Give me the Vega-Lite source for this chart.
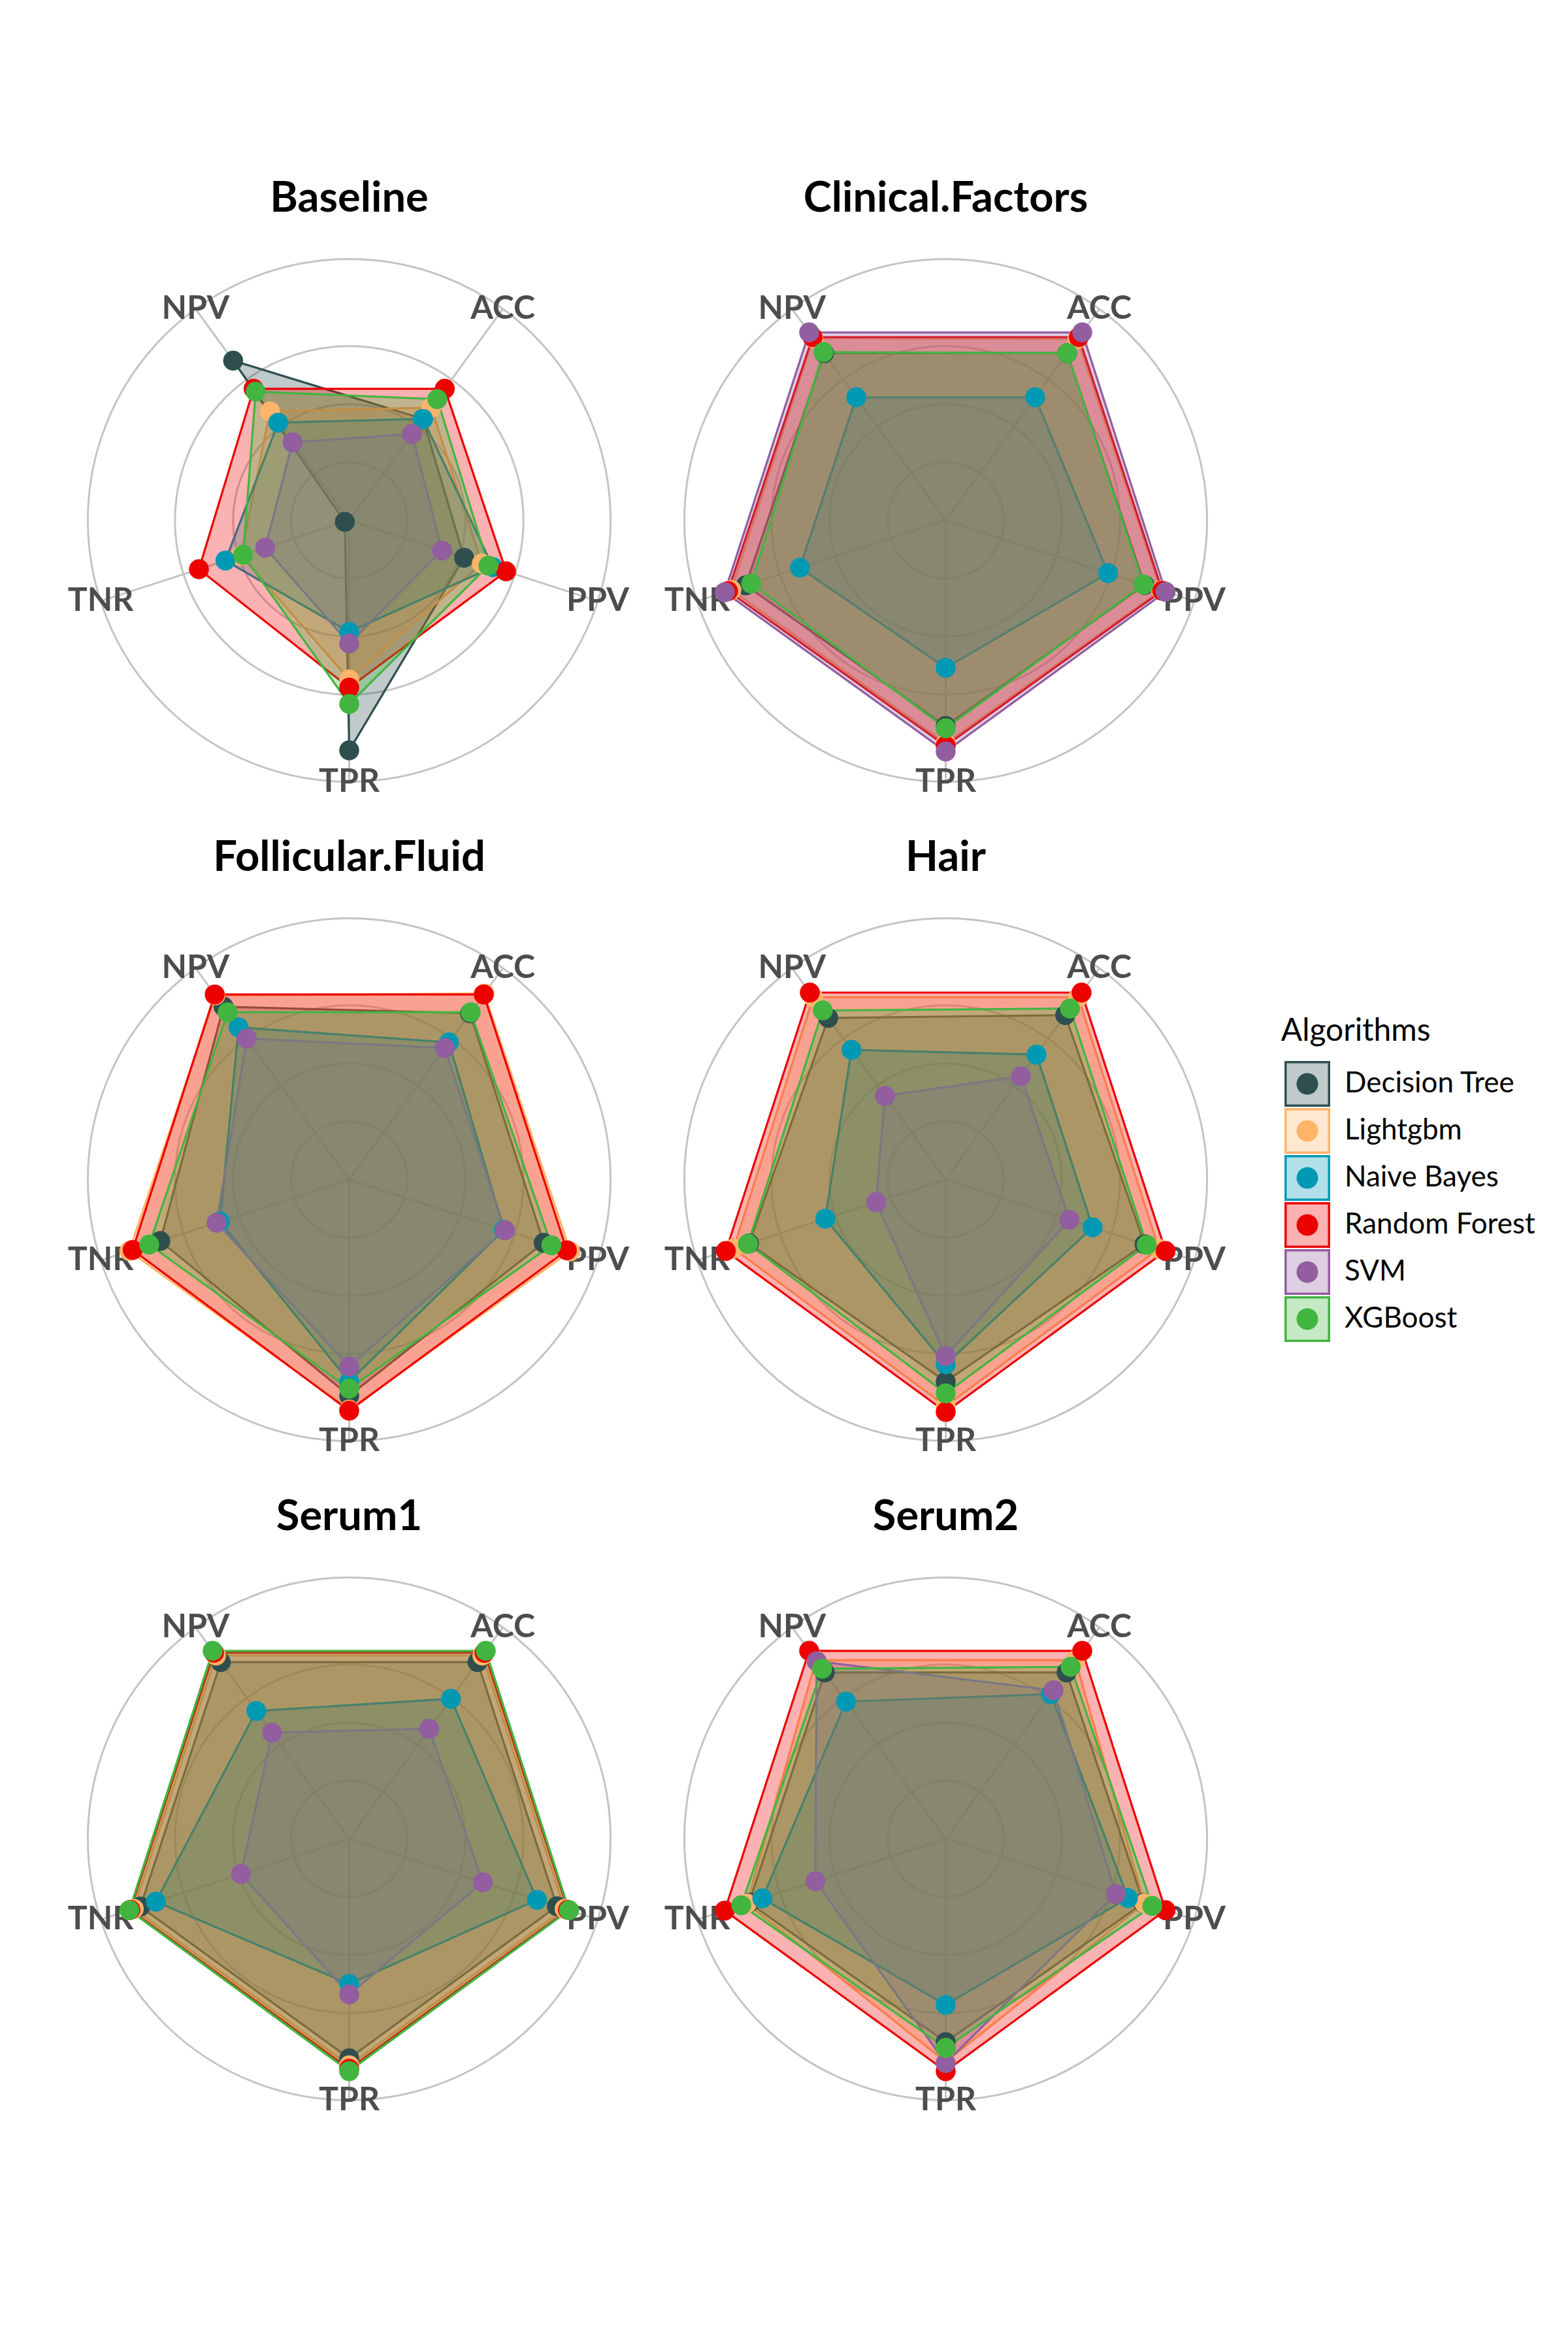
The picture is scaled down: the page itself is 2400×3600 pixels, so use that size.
{
  "$schema": "https://vega.github.io/schema/vega-lite/v6.json",
  "background": "white",
  "padding": {"left": 90, "top": 272, "right": 0, "bottom": 0},
  "spacing": 68,
  "hconcat": [
    {
      "data": {"values": [
        {"panel": "Baseline", "algorithm": "Decision Tree", "metric": "ACC", "value": 0.54},
        {"panel": "Baseline", "algorithm": "Decision Tree", "metric": "PPV", "value": 0.52},
        {"panel": "Baseline", "algorithm": "Decision Tree", "metric": "TPR", "value": 0.99},
        {"panel": "Baseline", "algorithm": "Decision Tree", "metric": "TNR", "value": 0.02},
        {"panel": "Baseline", "algorithm": "Decision Tree", "metric": "NPV", "value": 0.85},
        {"panel": "Baseline", "algorithm": "Lightgbm", "metric": "ACC", "value": 0.6},
        {"panel": "Baseline", "algorithm": "Lightgbm", "metric": "PPV", "value": 0.6},
        {"panel": "Baseline", "algorithm": "Lightgbm", "metric": "TPR", "value": 0.685},
        {"panel": "Baseline", "algorithm": "Lightgbm", "metric": "TNR", "value": 0.49},
        {"panel": "Baseline", "algorithm": "Lightgbm", "metric": "NPV", "value": 0.58},
        {"panel": "Baseline", "algorithm": "Naive Bayes", "metric": "ACC", "value": 0.54},
        {"panel": "Baseline", "algorithm": "Naive Bayes", "metric": "PPV", "value": 0.65},
        {"panel": "Baseline", "algorithm": "Naive Bayes", "metric": "TPR", "value": 0.48},
        {"panel": "Baseline", "algorithm": "Naive Bayes", "metric": "TNR", "value": 0.56},
        {"panel": "Baseline", "algorithm": "Naive Bayes", "metric": "NPV", "value": 0.52},
        {"panel": "Baseline", "algorithm": "Random Forest", "metric": "ACC", "value": 0.7},
        {"panel": "Baseline", "algorithm": "Random Forest", "metric": "PPV", "value": 0.71},
        {"panel": "Baseline", "algorithm": "Random Forest", "metric": "TPR", "value": 0.72},
        {"panel": "Baseline", "algorithm": "Random Forest", "metric": "TNR", "value": 0.68},
        {"panel": "Baseline", "algorithm": "Random Forest", "metric": "NPV", "value": 0.7},
        {"panel": "Baseline", "algorithm": "SVM", "metric": "ACC", "value": 0.46},
        {"panel": "Baseline", "algorithm": "SVM", "metric": "PPV", "value": 0.42},
        {"panel": "Baseline", "algorithm": "SVM", "metric": "TPR", "value": 0.53},
        {"panel": "Baseline", "algorithm": "SVM", "metric": "TNR", "value": 0.38},
        {"panel": "Baseline", "algorithm": "SVM", "metric": "NPV", "value": 0.415},
        {"panel": "Baseline", "algorithm": "XGBoost", "metric": "ACC", "value": 0.645},
        {"panel": "Baseline", "algorithm": "XGBoost", "metric": "PPV", "value": 0.63},
        {"panel": "Baseline", "algorithm": "XGBoost", "metric": "TPR", "value": 0.79},
        {"panel": "Baseline", "algorithm": "XGBoost", "metric": "TNR", "value": 0.48},
        {"panel": "Baseline", "algorithm": "XGBoost", "metric": "NPV", "value": 0.685},

        {"panel": "Clinical.Factors", "algorithm": "Decision Tree", "metric": "ACC", "value": 0.89},
        {"panel": "Clinical.Factors", "algorithm": "Decision Tree", "metric": "PPV", "value": 0.9},
        {"panel": "Clinical.Factors", "algorithm": "Decision Tree", "metric": "TPR", "value": 0.885},
        {"panel": "Clinical.Factors", "algorithm": "Decision Tree", "metric": "TNR", "value": 0.905},
        {"panel": "Clinical.Factors", "algorithm": "Decision Tree", "metric": "NPV", "value": 0.89},
        {"panel": "Clinical.Factors", "algorithm": "Lightgbm", "metric": "ACC", "value": 0.965},
        {"panel": "Clinical.Factors", "algorithm": "Lightgbm", "metric": "PPV", "value": 0.975},
        {"panel": "Clinical.Factors", "algorithm": "Lightgbm", "metric": "TPR", "value": 0.96},
        {"panel": "Clinical.Factors", "algorithm": "Lightgbm", "metric": "TNR", "value": 0.97},
        {"panel": "Clinical.Factors", "algorithm": "Lightgbm", "metric": "NPV", "value": 0.97},
        {"panel": "Clinical.Factors", "algorithm": "Naive Bayes", "metric": "ACC", "value": 0.655},
        {"panel": "Clinical.Factors", "algorithm": "Naive Bayes", "metric": "PPV", "value": 0.735},
        {"panel": "Clinical.Factors", "algorithm": "Naive Bayes", "metric": "TPR", "value": 0.635},
        {"panel": "Clinical.Factors", "algorithm": "Naive Bayes", "metric": "TNR", "value": 0.66},
        {"panel": "Clinical.Factors", "algorithm": "Naive Bayes", "metric": "NPV", "value": 0.655},
        {"panel": "Clinical.Factors", "algorithm": "Random Forest", "metric": "ACC", "value": 0.975},
        {"panel": "Clinical.Factors", "algorithm": "Random Forest", "metric": "PPV", "value": 0.98},
        {"panel": "Clinical.Factors", "algorithm": "Random Forest", "metric": "TPR", "value": 0.97},
        {"panel": "Clinical.Factors", "algorithm": "Random Forest", "metric": "TNR", "value": 0.985},
        {"panel": "Clinical.Factors", "algorithm": "Random Forest", "metric": "NPV", "value": 0.975},
        {"panel": "Clinical.Factors", "algorithm": "SVM", "metric": "ACC", "value": 1.0},
        {"panel": "Clinical.Factors", "algorithm": "SVM", "metric": "PPV", "value": 0.995},
        {"panel": "Clinical.Factors", "algorithm": "SVM", "metric": "TPR", "value": 0.995},
        {"panel": "Clinical.Factors", "algorithm": "SVM", "metric": "TNR", "value": 1.0},
        {"panel": "Clinical.Factors", "algorithm": "SVM", "metric": "NPV", "value": 1.0},
        {"panel": "Clinical.Factors", "algorithm": "XGBoost", "metric": "ACC", "value": 0.89},
        {"panel": "Clinical.Factors", "algorithm": "XGBoost", "metric": "PPV", "value": 0.895},
        {"panel": "Clinical.Factors", "algorithm": "XGBoost", "metric": "TPR", "value": 0.895},
        {"panel": "Clinical.Factors", "algorithm": "XGBoost", "metric": "TNR", "value": 0.88},
        {"panel": "Clinical.Factors", "algorithm": "XGBoost", "metric": "NPV", "value": 0.895},

        {"panel": "Follicular.Fluid", "algorithm": "Decision Tree", "metric": "ACC", "value": 0.885},
        {"panel": "Follicular.Fluid", "algorithm": "Decision Tree", "metric": "PPV", "value": 0.88},
        {"panel": "Follicular.Fluid", "algorithm": "Decision Tree", "metric": "TPR", "value": 0.93},
        {"panel": "Follicular.Fluid", "algorithm": "Decision Tree", "metric": "TNR", "value": 0.855},
        {"panel": "Follicular.Fluid", "algorithm": "Decision Tree", "metric": "NPV", "value": 0.92},
        {"panel": "Follicular.Fluid", "algorithm": "Lightgbm", "metric": "ACC", "value": 0.99},
        {"panel": "Follicular.Fluid", "algorithm": "Lightgbm", "metric": "PPV", "value": 1.0},
        {"panel": "Follicular.Fluid", "algorithm": "Lightgbm", "metric": "TPR", "value": 0.99},
        {"panel": "Follicular.Fluid", "algorithm": "Lightgbm", "metric": "TNR", "value": 0.995},
        {"panel": "Follicular.Fluid", "algorithm": "Lightgbm", "metric": "NPV", "value": 0.98},
        {"panel": "Follicular.Fluid", "algorithm": "Naive Bayes", "metric": "ACC", "value": 0.73},
        {"panel": "Follicular.Fluid", "algorithm": "Naive Bayes", "metric": "PPV", "value": 0.7},
        {"panel": "Follicular.Fluid", "algorithm": "Naive Bayes", "metric": "TPR", "value": 0.87},
        {"panel": "Follicular.Fluid", "algorithm": "Naive Bayes", "metric": "TNR", "value": 0.585},
        {"panel": "Follicular.Fluid", "algorithm": "Naive Bayes", "metric": "NPV", "value": 0.81},
        {"panel": "Follicular.Fluid", "algorithm": "Random Forest", "metric": "ACC", "value": 0.985},
        {"panel": "Follicular.Fluid", "algorithm": "Random Forest", "metric": "PPV", "value": 0.985},
        {"panel": "Follicular.Fluid", "algorithm": "Random Forest", "metric": "TPR", "value": 0.995},
        {"panel": "Follicular.Fluid", "algorithm": "Random Forest", "metric": "TNR", "value": 0.98},
        {"panel": "Follicular.Fluid", "algorithm": "Random Forest", "metric": "NPV", "value": 0.985},
        {"panel": "Follicular.Fluid", "algorithm": "SVM", "metric": "ACC", "value": 0.7},
        {"panel": "Follicular.Fluid", "algorithm": "SVM", "metric": "PPV", "value": 0.705},
        {"panel": "Follicular.Fluid", "algorithm": "SVM", "metric": "TPR", "value": 0.805},
        {"panel": "Follicular.Fluid", "algorithm": "SVM", "metric": "TNR", "value": 0.6},
        {"panel": "Follicular.Fluid", "algorithm": "SVM", "metric": "NPV", "value": 0.75},
        {"panel": "Follicular.Fluid", "algorithm": "XGBoost", "metric": "ACC", "value": 0.89},
        {"panel": "Follicular.Fluid", "algorithm": "XGBoost", "metric": "PPV", "value": 0.915},
        {"panel": "Follicular.Fluid", "algorithm": "XGBoost", "metric": "TPR", "value": 0.9},
        {"panel": "Follicular.Fluid", "algorithm": "XGBoost", "metric": "TNR", "value": 0.905},
        {"panel": "Follicular.Fluid", "algorithm": "XGBoost", "metric": "NPV", "value": 0.89},

        {"panel": "Hair", "algorithm": "Decision Tree", "metric": "ACC", "value": 0.875},
        {"panel": "Hair", "algorithm": "Decision Tree", "metric": "PPV", "value": 0.9},
        {"panel": "Hair", "algorithm": "Decision Tree", "metric": "TPR", "value": 0.87},
        {"panel": "Hair", "algorithm": "Decision Tree", "metric": "TNR", "value": 0.89},
        {"panel": "Hair", "algorithm": "Decision Tree", "metric": "NPV", "value": 0.86},
        {"panel": "Hair", "algorithm": "Lightgbm", "metric": "ACC", "value": 0.97},
        {"panel": "Hair", "algorithm": "Lightgbm", "metric": "PPV", "value": 0.965},
        {"panel": "Hair", "algorithm": "Lightgbm", "metric": "TPR", "value": 0.975},
        {"panel": "Hair", "algorithm": "Lightgbm", "metric": "TNR", "value": 0.96},
        {"panel": "Hair", "algorithm": "Lightgbm", "metric": "NPV", "value": 0.97},
        {"panel": "Hair", "algorithm": "Naive Bayes", "metric": "ACC", "value": 0.665},
        {"panel": "Hair", "algorithm": "Naive Bayes", "metric": "PPV", "value": 0.665},
        {"panel": "Hair", "algorithm": "Naive Bayes", "metric": "TPR", "value": 0.795},
        {"panel": "Hair", "algorithm": "Naive Bayes", "metric": "TNR", "value": 0.545},
        {"panel": "Hair", "algorithm": "Naive Bayes", "metric": "NPV", "value": 0.69},
        {"panel": "Hair", "algorithm": "Random Forest", "metric": "ACC", "value": 0.995},
        {"panel": "Hair", "algorithm": "Random Forest", "metric": "PPV", "value": 0.995},
        {"panel": "Hair", "algorithm": "Random Forest", "metric": "TPR", "value": 1.0},
        {"panel": "Hair", "algorithm": "Random Forest", "metric": "TNR", "value": 0.995},
        {"panel": "Hair", "algorithm": "Random Forest", "metric": "NPV", "value": 0.995},
        {"panel": "Hair", "algorithm": "SVM", "metric": "ACC", "value": 0.55},
        {"panel": "Hair", "algorithm": "SVM", "metric": "PPV", "value": 0.56},
        {"panel": "Hair", "algorithm": "SVM", "metric": "TPR", "value": 0.76},
        {"panel": "Hair", "algorithm": "SVM", "metric": "TNR", "value": 0.315},
        {"panel": "Hair", "algorithm": "SVM", "metric": "NPV", "value": 0.445},
        {"panel": "Hair", "algorithm": "XGBoost", "metric": "ACC", "value": 0.91},
        {"panel": "Hair", "algorithm": "XGBoost", "metric": "PPV", "value": 0.91},
        {"panel": "Hair", "algorithm": "XGBoost", "metric": "TPR", "value": 0.92},
        {"panel": "Hair", "algorithm": "XGBoost", "metric": "TNR", "value": 0.895},
        {"panel": "Hair", "algorithm": "XGBoost", "metric": "NPV", "value": 0.9},

        {"panel": "Serum1", "algorithm": "Decision Tree", "metric": "ACC", "value": 0.94},
        {"panel": "Serum1", "algorithm": "Decision Tree", "metric": "PPV", "value": 0.94},
        {"panel": "Serum1", "algorithm": "Decision Tree", "metric": "TPR", "value": 0.945},
        {"panel": "Serum1", "algorithm": "Decision Tree", "metric": "TNR", "value": 0.945},
        {"panel": "Serum1", "algorithm": "Decision Tree", "metric": "NPV", "value": 0.94},
        {"panel": "Serum1", "algorithm": "Lightgbm", "metric": "ACC", "value": 0.975},
        {"panel": "Serum1", "algorithm": "Lightgbm", "metric": "PPV", "value": 0.975},
        {"panel": "Serum1", "algorithm": "Lightgbm", "metric": "TPR", "value": 0.975},
        {"panel": "Serum1", "algorithm": "Lightgbm", "metric": "TNR", "value": 0.975},
        {"panel": "Serum1", "algorithm": "Lightgbm", "metric": "NPV", "value": 0.975},
        {"panel": "Serum1", "algorithm": "Naive Bayes", "metric": "ACC", "value": 0.745},
        {"panel": "Serum1", "algorithm": "Naive Bayes", "metric": "PPV", "value": 0.85},
        {"panel": "Serum1", "algorithm": "Naive Bayes", "metric": "TPR", "value": 0.625},
        {"panel": "Serum1", "algorithm": "Naive Bayes", "metric": "TNR", "value": 0.875},
        {"panel": "Serum1", "algorithm": "Naive Bayes", "metric": "NPV", "value": 0.68},
        {"panel": "Serum1", "algorithm": "Random Forest", "metric": "ACC", "value": 0.99},
        {"panel": "Serum1", "algorithm": "Random Forest", "metric": "PPV", "value": 0.99},
        {"panel": "Serum1", "algorithm": "Random Forest", "metric": "TPR", "value": 0.99},
        {"panel": "Serum1", "algorithm": "Random Forest", "metric": "TNR", "value": 0.99},
        {"panel": "Serum1", "algorithm": "Random Forest", "metric": "NPV", "value": 0.99},
        {"panel": "Serum1", "algorithm": "SVM", "metric": "ACC", "value": 0.585},
        {"panel": "Serum1", "algorithm": "SVM", "metric": "PPV", "value": 0.605},
        {"panel": "Serum1", "algorithm": "SVM", "metric": "TPR", "value": 0.67},
        {"panel": "Serum1", "algorithm": "SVM", "metric": "TNR", "value": 0.49},
        {"panel": "Serum1", "algorithm": "SVM", "metric": "NPV", "value": 0.565},
        {"panel": "Serum1", "algorithm": "XGBoost", "metric": "ACC", "value": 1.0},
        {"panel": "Serum1", "algorithm": "XGBoost", "metric": "PPV", "value": 0.995},
        {"panel": "Serum1", "algorithm": "XGBoost", "metric": "TPR", "value": 1.0},
        {"panel": "Serum1", "algorithm": "XGBoost", "metric": "TNR", "value": 0.995},
        {"panel": "Serum1", "algorithm": "XGBoost", "metric": "NPV", "value": 1.0},

        {"panel": "Serum2", "algorithm": "Decision Tree", "metric": "ACC", "value": 0.885},
        {"panel": "Serum2", "algorithm": "Decision Tree", "metric": "PPV", "value": 0.895},
        {"panel": "Serum2", "algorithm": "Decision Tree", "metric": "TPR", "value": 0.875},
        {"panel": "Serum2", "algorithm": "Decision Tree", "metric": "TNR", "value": 0.89},
        {"panel": "Serum2", "algorithm": "Decision Tree", "metric": "NPV", "value": 0.885},
        {"panel": "Serum2", "algorithm": "Lightgbm", "metric": "ACC", "value": 0.95},
        {"panel": "Serum2", "algorithm": "Lightgbm", "metric": "PPV", "value": 0.9},
        {"panel": "Serum2", "algorithm": "Lightgbm", "metric": "TPR", "value": 0.96},
        {"panel": "Serum2", "algorithm": "Lightgbm", "metric": "TNR", "value": 0.9},
        {"panel": "Serum2", "algorithm": "Lightgbm", "metric": "NPV", "value": 0.95},
        {"panel": "Serum2", "algorithm": "Naive Bayes", "metric": "ACC", "value": 0.77},
        {"panel": "Serum2", "algorithm": "Naive Bayes", "metric": "PPV", "value": 0.825},
        {"panel": "Serum2", "algorithm": "Naive Bayes", "metric": "TPR", "value": 0.715},
        {"panel": "Serum2", "algorithm": "Naive Bayes", "metric": "TNR", "value": 0.83},
        {"panel": "Serum2", "algorithm": "Naive Bayes", "metric": "NPV", "value": 0.73},
        {"panel": "Serum2", "algorithm": "Random Forest", "metric": "ACC", "value": 1.0},
        {"panel": "Serum2", "algorithm": "Random Forest", "metric": "PPV", "value": 0.995},
        {"panel": "Serum2", "algorithm": "Random Forest", "metric": "TPR", "value": 1.0},
        {"panel": "Serum2", "algorithm": "Random Forest", "metric": "TNR", "value": 1.0},
        {"panel": "Serum2", "algorithm": "Random Forest", "metric": "NPV", "value": 1.0},
        {"panel": "Serum2", "algorithm": "SVM", "metric": "ACC", "value": 0.79},
        {"panel": "Serum2", "algorithm": "SVM", "metric": "PPV", "value": 0.77},
        {"panel": "Serum2", "algorithm": "SVM", "metric": "TPR", "value": 0.965},
        {"panel": "Serum2", "algorithm": "SVM", "metric": "TNR", "value": 0.59},
        {"panel": "Serum2", "algorithm": "SVM", "metric": "NPV", "value": 0.945},
        {"panel": "Serum2", "algorithm": "XGBoost", "metric": "ACC", "value": 0.915},
        {"panel": "Serum2", "algorithm": "XGBoost", "metric": "PPV", "value": 0.935},
        {"panel": "Serum2", "algorithm": "XGBoost", "metric": "TPR", "value": 0.9},
        {"panel": "Serum2", "algorithm": "XGBoost", "metric": "TNR", "value": 0.925},
        {"panel": "Serum2", "algorithm": "XGBoost", "metric": "NPV", "value": 0.905},

        {"panel": "Baseline", "ring": 0.25}, {"panel": "Baseline", "ring": 0.5}, {"panel": "Baseline", "ring": 0.75}, {"panel": "Baseline", "ring": 1.125},
        {"panel": "Clinical.Factors", "ring": 0.25}, {"panel": "Clinical.Factors", "ring": 0.5}, {"panel": "Clinical.Factors", "ring": 0.75}, {"panel": "Clinical.Factors", "ring": 1.125},
        {"panel": "Follicular.Fluid", "ring": 0.25}, {"panel": "Follicular.Fluid", "ring": 0.5}, {"panel": "Follicular.Fluid", "ring": 0.75}, {"panel": "Follicular.Fluid", "ring": 1.125},
        {"panel": "Hair", "ring": 0.25}, {"panel": "Hair", "ring": 0.5}, {"panel": "Hair", "ring": 0.75}, {"panel": "Hair", "ring": 1.125},
        {"panel": "Serum1", "ring": 0.25}, {"panel": "Serum1", "ring": 0.5}, {"panel": "Serum1", "ring": 0.75}, {"panel": "Serum1", "ring": 1.125},
        {"panel": "Serum2", "ring": 0.25}, {"panel": "Serum2", "ring": 0.5}, {"panel": "Serum2", "ring": 0.75}, {"panel": "Serum2", "ring": 1.125}
      ]},
      "transform": [
        {"calculate": "indexof(['ACC','PPV','TPR','TNR','NPV'], datum.metric)", "as": "idx"},
        {"calculate": "PI/5 + datum.idx*2*PI/5", "as": "ang"},
        {"calculate": "datum.value*sin(datum.ang)", "as": "px"},
        {"calculate": "datum.value*cos(datum.ang)", "as": "py"},
        {"calculate": "1.125*sin(datum.ang)", "as": "lx"},
        {"calculate": "1.125*cos(datum.ang)", "as": "ly"},
        {"calculate": "0", "as": "origin"}
      ],
      "facet": {
        "field": "panel", "type": "nominal",
        "sort": ["Baseline", "Clinical.Factors", "Follicular.Fluid", "Hair", "Serum1", "Serum2"],
        "title": null,
        "header": {"labelFontSize": 65, "labelFontWeight": "bold", "labelFont": "Lato", "labelColor": "black", "labelPadding": 14}
      },
      "columns": 2,
      "spacing": {"row": 40, "column": 24},
      "spec": {
        "width": 889,
        "height": 889,
        "layer": [
          {
            "transform": [{"filter": "isValid(datum.ring)"}],
            "mark": {"type": "point", "shape": "circle", "filled": false, "stroke": "#C4C4C4", "strokeWidth": 3, "opacity": 1},
            "encoding": {
              "x": {"field": "origin", "type": "quantitative", "scale": {"domain": [-1.25, 1.25], "nice": false, "zero": false}, "axis": null},
              "y": {"field": "origin", "type": "quantitative", "scale": {"domain": [-1.25, 1.25], "nice": false, "zero": false}, "axis": null},
              "size": {"field": "ring", "type": "quantitative", "legend": null, "scale": {"type": "pow", "exponent": 2, "domain": [0, 1.25], "range": [0, 790321], "zero": true}}
            }
          },
          {
            "transform": [{"filter": "datum.algorithm === 'SVM'"}],
            "mark": {"type": "rule", "stroke": "#C4C4C4", "strokeWidth": 3},
            "encoding": {
              "x": {"field": "lx", "type": "quantitative", "scale": {"domain": [-1.25, 1.25], "nice": false, "zero": false}, "axis": null},
              "y": {"field": "ly", "type": "quantitative", "scale": {"domain": [-1.25, 1.25], "nice": false, "zero": false}, "axis": null},
              "x2": {"field": "origin"},
              "y2": {"field": "origin"}
            }
          },
          {
            "transform": [{"filter": "datum.algorithm === 'SVM'"}],
            "mark": {"type": "text", "font": "Lato", "fontWeight": "bold", "fontSize": 50, "color": "#4D4D4D", "align": "center", "baseline": "middle"},
            "encoding": {
              "x": {"field": "lx", "type": "quantitative", "scale": {"domain": [-1.25, 1.25], "nice": false, "zero": false}, "axis": null},
              "y": {"field": "ly", "type": "quantitative", "scale": {"domain": [-1.25, 1.25], "nice": false, "zero": false}, "axis": null},
              "text": {"field": "metric", "type": "nominal"}
            }
          },
          {
            "transform": [{"filter": "isValid(datum.algorithm)"}],
            "mark": {"type": "line", "interpolate": "linear-closed", "strokeWidth": 3.2, "fillOpacity": 0.3},
            "encoding": {
              "x": {"field": "px", "type": "quantitative", "scale": {"domain": [-1.25, 1.25], "nice": false, "zero": false}, "axis": null},
              "y": {"field": "py", "type": "quantitative", "scale": {"domain": [-1.25, 1.25], "nice": false, "zero": false}, "axis": null},
              "order": {"field": "idx", "type": "quantitative"},
              "color": {"field": "algorithm", "type": "nominal", "legend": null,
                "scale": {"domain": ["Decision Tree", "Lightgbm", "Naive Bayes", "Random Forest", "SVM", "XGBoost"], "range": ["#2F4F4F", "#FFB469", "#0099B4", "#ED0000", "#925E9F", "#42B540"]}},
              "fill": {"field": "algorithm", "type": "nominal", "legend": null,
                "scale": {"domain": ["Decision Tree", "Lightgbm", "Naive Bayes", "Random Forest", "SVM", "XGBoost"], "range": ["#2F4F4F", "#FFB469", "#0099B4", "#ED0000", "#925E9F", "#42B540"]}}
            }
          },
          {
            "transform": [{"filter": "isValid(datum.algorithm)"}],
            "mark": {"type": "point", "shape": "circle", "filled": true, "size": 930, "opacity": 1},
            "encoding": {
              "x": {"field": "px", "type": "quantitative", "scale": {"domain": [-1.25, 1.25], "nice": false, "zero": false}, "axis": null},
              "y": {"field": "py", "type": "quantitative", "scale": {"domain": [-1.25, 1.25], "nice": false, "zero": false}, "axis": null},
              "color": {"field": "algorithm", "type": "nominal", "legend": null,
                "scale": {"domain": ["Decision Tree", "Lightgbm", "Naive Bayes", "Random Forest", "SVM", "XGBoost"], "range": ["#2F4F4F", "#FFB469", "#0099B4", "#ED0000", "#925E9F", "#42B540"]}}
            }
          }
        ]
      }
    },
    {
      "spacing": 0,
      "vconcat": [
        {
          "data": {"values": []},
          "width": 70,
          "height": 1202,
          "mark": {"type": "point", "opacity": 0}
        },
        {
          "data": {"values": [
            {"algorithm": "Decision Tree"}, {"algorithm": "Lightgbm"}, {"algorithm": "Naive Bayes"},
            {"algorithm": "Random Forest"}, {"algorithm": "SVM"}, {"algorithm": "XGBoost"}
          ]},
          "width": 70,
          "height": 432,
          "title": {"text": "Algorithms", "anchor": "start", "font": "Lato", "fontSize": 48, "fontWeight": "normal", "color": "black", "offset": 16},
          "layer": [
            {
              "mark": {"type": "point", "shape": "square", "size": 4422, "filled": true, "fillOpacity": 0.3, "strokeWidth": 3.5, "strokeOpacity": 1},
              "encoding": {
                "y": {"field": "algorithm", "type": "nominal", "axis": null, "scale": {"type": "point", "padding": 0.5}},
                "color": {"field": "algorithm", "type": "nominal", "legend": null,
                  "scale": {"domain": ["Decision Tree", "Lightgbm", "Naive Bayes", "Random Forest", "SVM", "XGBoost"], "range": ["#2F4F4F", "#FFB469", "#0099B4", "#ED0000", "#925E9F", "#42B540"]}},
                "stroke": {"field": "algorithm", "type": "nominal", "legend": null,
                  "scale": {"domain": ["Decision Tree", "Lightgbm", "Naive Bayes", "Random Forest", "SVM", "XGBoost"], "range": ["#2F4F4F", "#FFB469", "#0099B4", "#ED0000", "#925E9F", "#42B540"]}}
              }
            },
            {
              "mark": {"type": "point", "shape": "circle", "size": 1089, "filled": true, "opacity": 1},
              "encoding": {
                "y": {"field": "algorithm", "type": "nominal", "axis": null, "scale": {"type": "point", "padding": 0.5}},
                "color": {"field": "algorithm", "type": "nominal", "legend": null,
                  "scale": {"domain": ["Decision Tree", "Lightgbm", "Naive Bayes", "Random Forest", "SVM", "XGBoost"], "range": ["#2F4F4F", "#FFB469", "#0099B4", "#ED0000", "#925E9F", "#42B540"]}}
              }
            },
            {
              "mark": {"type": "text", "align": "left", "baseline": "middle", "dx": 57, "font": "Lato", "fontSize": 44, "color": "black"},
              "encoding": {
                "y": {"field": "algorithm", "type": "nominal", "axis": null, "scale": {"type": "point", "padding": 0.5}},
                "text": {"field": "algorithm", "type": "nominal"}
              }
            }
          ]
        }
      ]
    }
  ],
  "config": {"view": {"stroke": null}, "font": "Lato"}
}
